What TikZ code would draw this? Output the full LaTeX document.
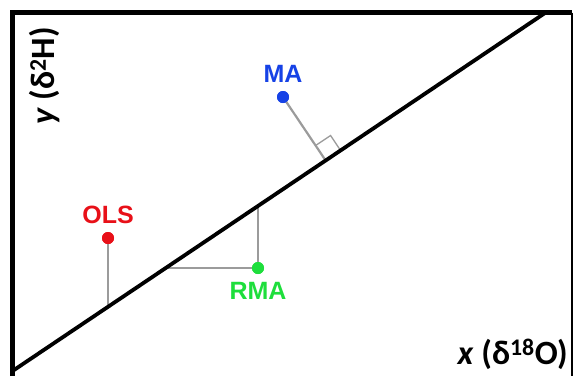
\documentclass[tikz,border=0pt]{standalone}
\usepackage{fontspec}
\setmainfont{Liberation Sans}
\newfontfamily\carlfont{Carlito}
\usetikzlibrary{calc}
\definecolor{olsred}{RGB}{232,16,24}
\definecolor{mablue}{RGB}{22,66,230}
\definecolor{rmagreen}{RGB}{30,222,60}
\definecolor{guide}{RGB}{155,155,155}
\begin{document}
\begin{tikzpicture}[x=1pt,y=-1pt,
  pt/.style={circle,fill=#1,inner sep=0pt,minimum size=12pt},
  lab/.style={font=\fontsize{25}{25}\selectfont\bfseries,text=#1,inner sep=0pt},
  axlab/.style={font=\carlfont\fontsize{34}{34}\selectfont\bfseries,inner sep=0pt},
  guideline/.style={draw=guide,line width=2.2pt},
  fitline/.style={line width=3.8pt,line cap=round}]
\useasboundingbox (0,0) rectangle (575,376);
% frame
\draw[line width=4.5pt] (12.5,376) -- (12.5,12.5) -- (572,12.5);
\draw[line width=1.5pt] (572,12.5) -- (572,376);
% fit line
\coordinate (A) at (14,370);
\coordinate (B) at (545,13);
% points
\node[pt=olsred] (OLS) at (108,238) {};
\node[pt=rmagreen] (RMA) at (258,268) {};
\node[pt=mablue] (MA) at (283,97) {};
% feet
\coordinate (olsfoot) at (108,306.8);
\coordinate (rmah) at (165.7,268);
\coordinate (rmav) at (258,206);
\coordinate (mafoot) at ($(A)!(MA.center)!(B)$);
% guides
\draw[guideline] (OLS.center) -- (olsfoot);
\draw[guideline] (RMA.center) -- (rmah);
\draw[guideline] (RMA.center) -- (rmav);
\draw[guideline] (MA.center) -- (mafoot);
\coordinate (sq1) at ($(mafoot)!18pt!(B)$);
\coordinate (sq2) at ($(mafoot)!18pt!(MA.center)$);
\draw[draw=guide,line width=1.3pt] (sq1) -- ($(sq1)+(sq2)-(mafoot)$) -- (sq2);
\draw[fitline] (A) -- (B);
% redraw dots on top
\node[pt=olsred] at (OLS.center) {};
\node[pt=rmagreen] at (RMA.center) {};
\node[pt=mablue] at (MA.center) {};
% labels
\node[lab=olsred] (olslab) at (108,215) {OLS};
\node[lab=rmagreen] (rmalab) at (258,291) {RMA};
\node[lab=mablue] (malab) at (283,74) {MA};
\node[axlab,rotate=90] (ylab) at (45,76) {\textit{y} (δ\textsuperscript{2}H)};
\node[axlab,anchor=east] (xlab) at (568,354) {\textit{x} (δ\textsuperscript{18}O)};
\end{tikzpicture}
\end{document}
